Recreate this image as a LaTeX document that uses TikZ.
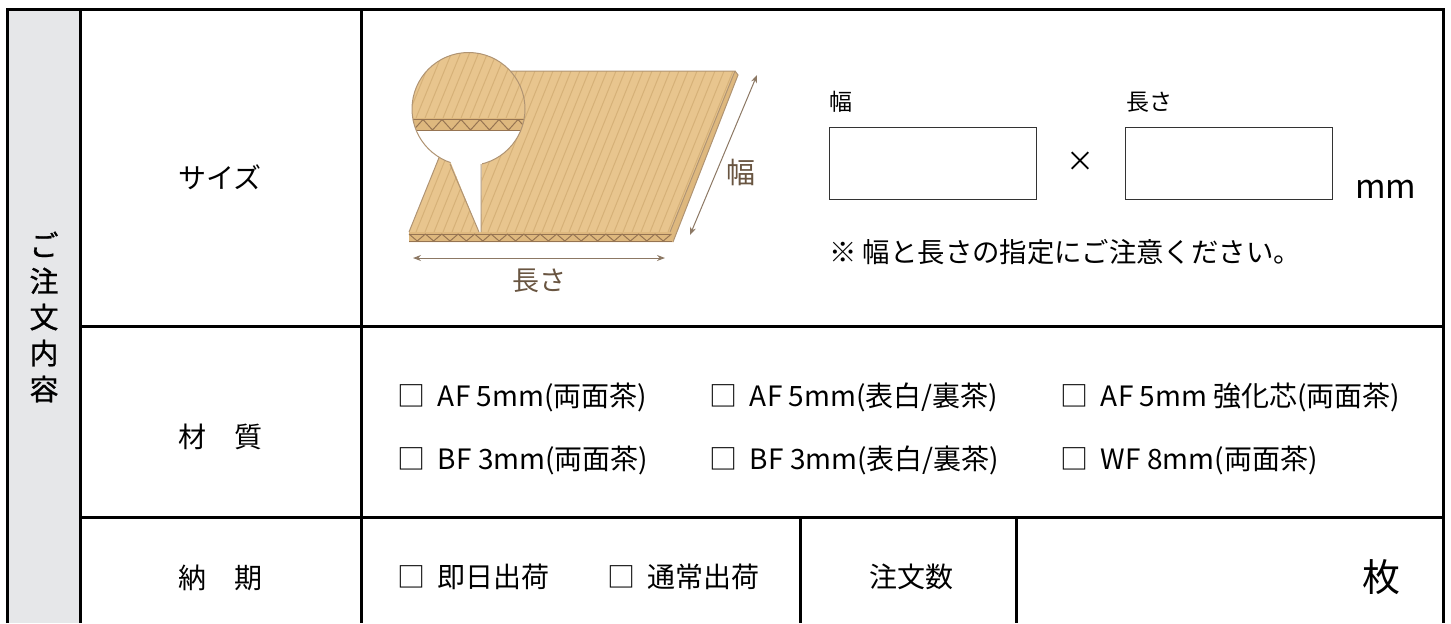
\documentclass[tikz,border=0pt]{standalone}
\usepackage{fontspec}
\setmainfont{Noto Sans CJK JP}
\newfontfamily\headfont[FakeBold=0.8]{Noto Sans CJK JP}
\usetikzlibrary{positioning, arrows.meta}

\definecolor{sideGray}{RGB}{230,231,233}
\definecolor{boardTan}{RGB}{232,197,142}
\definecolor{stripeTan}{RGB}{214,177,120}
\definecolor{edgeTan}{RGB}{222,184,126}
\definecolor{fluteBrown}{RGB}{150,116,82}
\definecolor{rimBrown}{RGB}{176,148,115}
\definecolor{dimBrown}{RGB}{140,120,100}
\definecolor{labelBrown}{RGB}{105,85,65}

\tikzset{
    x=0.5pt, y=-0.5pt, % one unit is one pixel of the order form, y runs down
    every node/.style={inner sep=0pt}, % text nodes sit right on their coordinates
    >={Stealth[length=4pt, width=3pt]}, % small heads for the size arrows
}
\newcommand{\tickbox}{□\hspace{0.45em}}

\begin{document}
\begin{tikzpicture}[
    tableLine/.style={line width=1.5pt, black},
    cellText/.style={font=\fontsize{14}{16}\selectfont},
    itemText/.style={font=\fontsize{14}{16}\selectfont, anchor=west},
    smallText/.style={font=\fontsize{11.5}{14}\selectfont, anchor=west},
    inputBox/.style={draw=black!80, line width=0.6pt, minimum width=103.5pt, minimum height=36pt, anchor=north west},
    stripe/.style={stripeTan, line width=0.5pt},
    flute/.style={fluteBrown, line width=0.5pt, line join=bevel},
    rim/.style={rimBrown, line width=0.5pt},
    dimArrow/.style={<->, dimBrown, line width=0.5pt},
    dimText/.style={font=\fontsize{13.5}{16}\selectfont, text=labelBrown},
]
\useasboundingbox (0,0) rectangle (1451,623);

% table frame
\fill[sideGray] (7,9) rectangle (80,623);
\draw[tableLine] (7,623) -- (7,9) -- (1443,9) -- (1443,623);
\draw[tableLine] (80,9) -- (80,623) (361,9) -- (361,623);
\draw[tableLine] (80,326) -- (1443,326) (80,517) -- (1443,517);
\draw[tableLine] (800,517) -- (800,623) (1016,517) -- (1016,623);

% row heads
\node[font=\headfont\fontsize{14.5}{18}\selectfont, align=center] (order) at (44,317) {ご\\注\\文\\内\\容};
\node[cellText] (size) at (220,177) {サイズ};
\node[cellText] (material) at (220,437) {材　質};
\node[cellText] (delivery) at (220,578) {納　期};

% cardboard sheet
\fill[edgeTan] (409,232) -- (670,232) -- (735,71) -- (738,75) -- (673,242) -- (409,242) -- cycle;
\draw[flute] (409,234) -- (670,234) (409,241) -- (672,241);
\draw[flute] (409,234) \foreach \i in {1,...,16} { -- ++(8.2,7) -- ++(8.2,-7) };
\fill[boardTan] (409,232) -- (670,232) -- (735,71) -- (474,71) -- cycle;
\begin{scope}
    \clip (409,232) -- (670,232) -- (735,71) -- (474,71) -- cycle;
    \foreach \x in {344,353,...,740} \draw[stripe] (\x,232) -- ++(65,-161);
\end{scope}
\draw[rim] (409,232) -- (474,71) -- (735,71) -- (670,232) (735,71) -- (738,75) -- (673,242);

% zoomed cut of the sheet
\begin{scope}
    \clip (468.5,109) circle[radius=28.25pt];
    \fill[boardTan] (400,40) rectangle (540,118);
    \foreach \x in {380,389,...,560} \draw[stripe] (\x,118) -- ++(27,-66);
    \fill[edgeTan] (400,118) rectangle (540,131);
    \draw[flute] (400,119.5) -- (540,119.5) (400,130) -- (540,130);
    \draw[flute] (404,119.5) \foreach \i in {1,...,7} { -- ++(9.5,10.5) -- ++(9.5,-10.5) };
    \fill[white] (400,131) rectangle (540,170);
\end{scope}
\draw[rim] (468.5,109) circle[radius=28.25pt];
\fill[white] (449,158) -- (482,158) -- (481,232) -- (479,232) -- cycle;
\draw[rim] (450,164) -- (479,232) (481,164) -- (481,232);

% size arrows
\coordinate (lenA) at (413,258);
\coordinate (lenB) at (665,258);
\coordinate (lenMid) at (539,258);
\draw[dimArrow] (lenA) -- (lenB);
\node[dimText, below=5pt of lenMid] (lenLabel) {長さ};
\coordinate (widA) at (757,75);
\coordinate (widB) at (690,235);
\draw[dimArrow] (widA) -- (widB);
\node[dimText, font=\fontsize{14.5}{16}\selectfont] (widLabel) at (741,172) {幅};

% size inputs
\node[smallText] (wLabel) at (829,102) {幅};
\node[smallText] (lLabel) at (1126,102) {長さ};
\node[inputBox] (wBox) at (829,127) {};
\node[inputBox] (lBox) at (1125,127) {};
\node[cellText] (times) at (1080,162) {×};
\node[font=\fontsize{16.5}{18}\selectfont, anchor=base west] (mm) at (1355,198) {mm};
\node[itemText, font=\fontsize{13.7}{16}\selectfont] (note) at (829,252) {※ 幅と長さの指定にご注意ください。};

% materials
\node[itemText] (afBoth) at (397,397) {\tickbox AF 5mm(両面茶)};
\node[itemText] (afWhite) at (709,397) {\tickbox AF 5mm(表白/裏茶)};
\node[itemText] (afCore) at (1060,397) {\tickbox AF 5mm 強化芯(両面茶)};
\node[itemText] (bfBoth) at (397,460) {\tickbox BF 3mm(両面茶)};
\node[itemText] (bfWhite) at (709,460) {\tickbox BF 3mm(表白/裏茶)};
\node[itemText] (wfBoth) at (1060,460) {\tickbox WF 8mm(両面茶)};

% delivery and quantity
\node[itemText] (sameDay) at (397,577) {\tickbox 即日出荷};
\node[itemText] (normal) at (607,577) {\tickbox 通常出荷};
\node[cellText] (qty) at (911,577) {注文数};
\node[font=\fontsize{19}{22}\selectfont] (sheets) at (1381,577) {枚};
\end{tikzpicture}
\end{document}
